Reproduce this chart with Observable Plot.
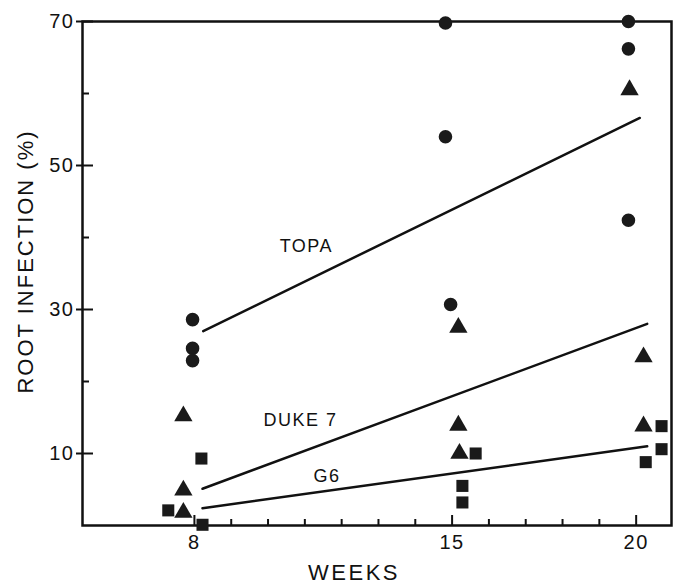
<!DOCTYPE html>
<html>
<head>
<meta charset="utf-8">
<script src="https://cdn.jsdelivr.net/npm/d3@7"></script>
<script src="https://cdn.jsdelivr.net/npm/@observablehq/plot@0.6"></script>
<style>
  html, body { margin: 0; padding: 0; background: #fff; }
  #chart svg { display: block; font-family: "Liberation Sans", Arial, sans-serif; }
</style>
</head>
<body>
<div id="chart"></div>
<script>
// --- data ---
const topaWeek = [7.95, 7.95, 7.95, 14.82, 14.82, 14.96, 19.79, 19.79, 19.79];
const topaInf  = [28.6, 24.6, 22.9, 69.8, 54.0, 30.7, 70.0, 66.2, 42.4];
const dukeWeek = [7.7, 7.7, 7.7, 15.17, 15.17, 15.2, 19.82, 20.2, 20.2];
const dukeInf  = [15.2, 4.9, 1.8, 27.5, 13.9, 10.0, 60.5, 23.4, 13.8];
const g6Week   = [8.19, 7.29, 8.22, 15.64, 15.28, 15.28, 20.69, 20.69, 20.26];
const g6Inf    = [9.3, 2.1, 0.1, 10.0, 5.5, 3.2, 13.8, 10.6, 8.8];

const topaFitWeek = [8.24, 20.1];
const topaFitInf  = [27.0, 56.6];
const dukeFitWeek = [8.22, 20.3];
const dukeFitInf  = [5.1, 28.0];
const g6FitWeek   = [8.22, 20.3];
const g6FitInf    = [2.4, 11.0];

const labelNames = ["TOPA", "DUKE 7", "G6"];
const labelWeek  = [11.04, 10.88, 11.6];
const labelInf   = [38.8, 14.6, 6.8];

const yMajor = [10, 30, 50, 70];
const yMinor = [20, 40, 60];
const xMajor = [8, 15, 20];
const xMinor = [9, 10, 11, 12, 13, 14, 16, 17, 18, 19];

// --- build tables ---
const pts = (w, v, s) => w.map((d, i) => ({week: d, inf: v[i], sym: s}));
const points = [
  ...pts(topaWeek, topaInf, "circle"),
  ...pts(dukeWeek, dukeInf, "triangle"),
  ...pts(g6Week, g6Inf, "square")
];
const fits = [
  pts(topaFitWeek, topaFitInf, "TOPA"),
  pts(dukeFitWeek, dukeFitInf, "DUKE 7"),
  pts(g6FitWeek, g6FitInf, "G6")
].flat();
const labels = labelNames.map((n, i) => ({name: n, week: labelWeek[i], inf: labelInf[i]}));

const W = 674, H = 583;
const mL = 82, mR = 3, mT = 21, mB = 58;
const plotW = W - mL - mR, plotH = H - mT - mB;

const chart = Plot.plot({
  width: W, height: H,
  marginLeft: mL, marginRight: mR, marginTop: mT, marginBottom: mB,
  style: {fontSize: "20px", fontFamily: "Liberation Sans, Arial, sans-serif", color: "#111", background: "#fff"},
  x: {domain: [4.96, 20.96], ticks: xMajor, tickSize: 0, tickPadding: 9, label: null, tickFormat: d => String(d)},
  y: {domain: [0, 70], ticks: yMajor, tickSize: 0, tickPadding: 8, label: null, tickFormat: d => String(d)},
  symbol: {domain: ["circle", "triangle", "square"], range: ["circle", "triangle", "square"]},
  marks: [
    Plot.frame({stroke: "#111", strokeWidth: 2.5}),
    Plot.ruleY(yMinor, {y: d => d, stroke: "#111", strokeWidth: 2, insetRight: plotW - 7}),
    Plot.ruleY(yMajor, {y: d => d, stroke: "#111", strokeWidth: 2, insetLeft: -6, insetRight: plotW - 11}),
    Plot.ruleX(xMinor, {x: d => d, stroke: "#111", strokeWidth: 2, insetTop: plotH - 6}),
    Plot.ruleX(xMajor, {x: d => d, stroke: "#111", strokeWidth: 2, insetTop: plotH - 10}),
    Plot.line(fits, {x: "week", y: "inf", z: "sym", stroke: "#111", strokeWidth: 2.5}),
    Plot.dot(points, {x: "week", y: "inf", symbol: "sym", fill: "#1a1a1a", r: 6.8}),
    Plot.text(labels, {x: "week", y: "inf", text: "name", fontSize: 18, fill: "#111"}),
    Plot.text(["ROOT INFECTION (%)"], {text: d => d, frameAnchor: "left", textAnchor: "middle", dx: -57, dy: -12, rotate: -90, fontSize: 22, fill: "#111"}),
    Plot.text(["WEEKS"], {text: d => d, frameAnchor: "bottom", dx: -23, dy: 54, fontSize: 22, fill: "#111"})
  ]
});
document.getElementById("chart").appendChild(chart);

// letter spacing tweaks
d3.select(chart).selectAll("text").each(function() {
  const t = this.textContent;
  if (t === "ROOT INFECTION (%)") this.style.letterSpacing = "2px";
  else if (t === "WEEKS") this.style.letterSpacing = "2.5px";
  else this.style.letterSpacing = "1.5px";
});
</script>
</body>
</html>
